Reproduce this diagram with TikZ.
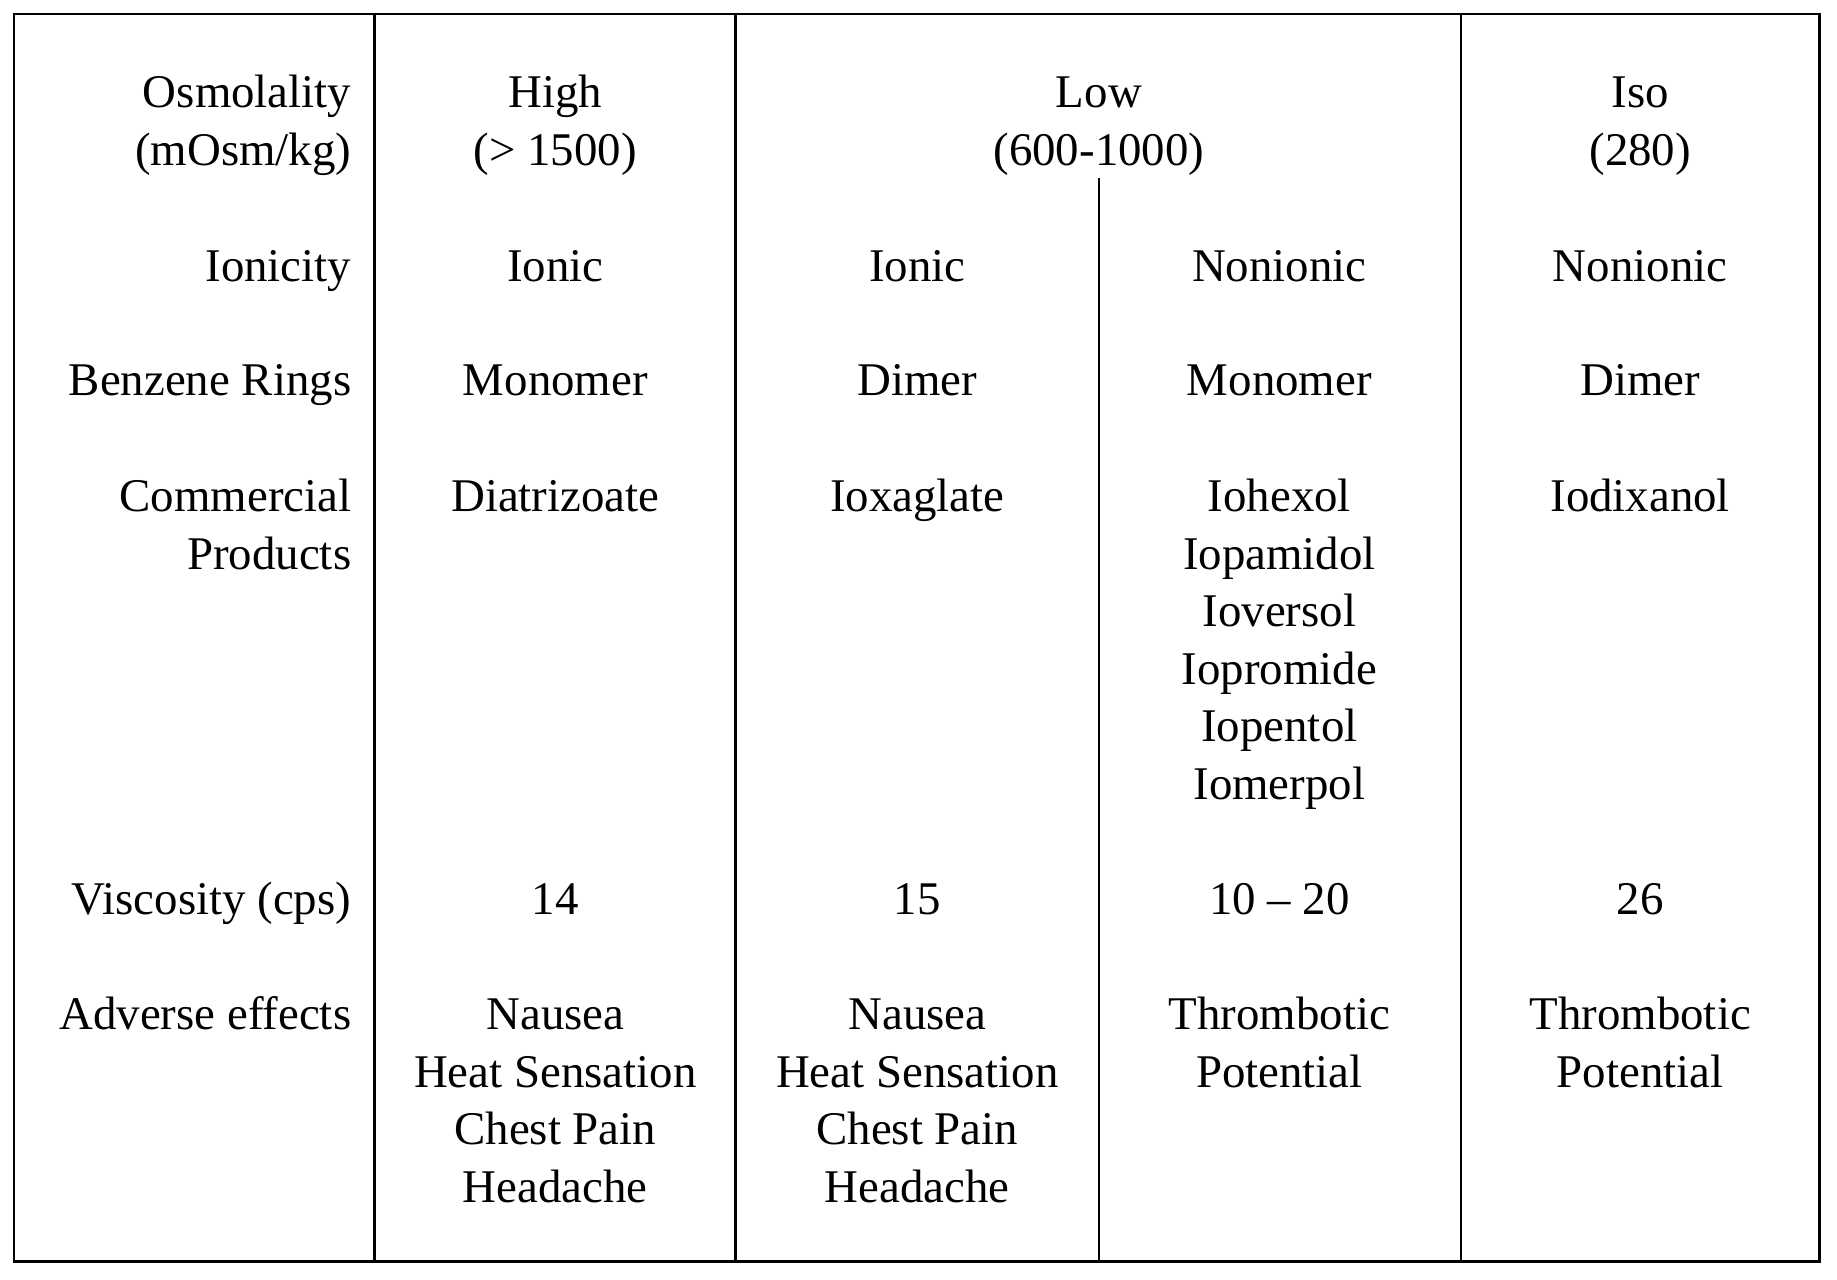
\documentclass[tikz,border=0pt]{standalone}
\usepackage{fontspec}
\setmainfont{Liberation Serif}
\begin{document}
\begin{tikzpicture}[x=1pt,y=-1pt,
 cell/.style={font=\fontsize{40}{49}\selectfont,align=center,anchor=base,inner sep=0pt},
 lab/.style={font=\fontsize{40}{49}\selectfont,align=right,anchor=base east,inner sep=0pt},
 rule/.style={line width=2.4pt}]
\useasboundingbox (0,0) rectangle (1568,1092);
\draw[rule] (12,12) rectangle (1553,1077);
\foreach \x in {320,628,1247} \draw[rule] (\x,12) -- (\x,1077);
\draw[rule] (938,152) -- (938,1077);
\def\b{14}
\node[lab] (l1) at (300,127+\b) {Osmolality\\(mOsm/kg)};
\node[lab] (l2) at (300,226+\b) {Ionicity};
\node[lab] (l3) at (300,324+\b) {Benzene Rings};
\node[lab] (l4) at (300,472+\b) {Commercial\\Products};
\node[lab] (l5) at (300,767+\b) {Viscosity (cps)};
\node[lab] (l6) at (300,865+\b) {Adverse effects};
\node[cell] (h1) at (474,127+\b) {High\\(> 1500)};
\node[cell] (h2) at (938,127+\b) {Low\\(600-1000)};
\node[cell] (h3) at (1400,127+\b) {Iso\\(280)};
\node[cell] (i1) at (474,226+\b) {Ionic};
\node[cell] (i2) at (783,226+\b) {Ionic};
\node[cell] (i3) at (1092,226+\b) {Nonionic};
\node[cell] (i4) at (1400,226+\b) {Nonionic};
\node[cell] (b1) at (474,324+\b) {Monomer};
\node[cell] (b2) at (783,324+\b) {Dimer};
\node[cell] (b3) at (1092,324+\b) {Monomer};
\node[cell] (b4) at (1400,324+\b) {Dimer};
\node[cell] (c1) at (474,423+\b) {Diatrizoate};
\node[cell] (c2) at (783,423+\b) {Ioxaglate};
\node[cell] (c3) at (1092,668+\b) {Iohexol\\Iopamidol\\Ioversol\\Iopromide\\Iopentol\\Iomerpol};
\node[cell] (c4) at (1400,423+\b) {Iodixanol};
\node[cell] (v1) at (474,767+\b) {14};
\node[cell] (v2) at (783,767+\b) {15};
\node[cell] (v3) at (1092,767+\b) {10 -- 20};
\node[cell] (v4) at (1400,767+\b) {26};
\node[cell] (a1) at (474,1012+\b) {Nausea\\Heat Sensation\\Chest Pain\\Headache};
\node[cell] (a2) at (783,1012+\b) {Nausea\\Heat Sensation\\Chest Pain\\Headache};
\node[cell] (a3) at (1092,914+\b) {Thrombotic\\Potential};
\node[cell] (a4) at (1400,914+\b) {Thrombotic\\Potential};
\end{tikzpicture}
\end{document}
